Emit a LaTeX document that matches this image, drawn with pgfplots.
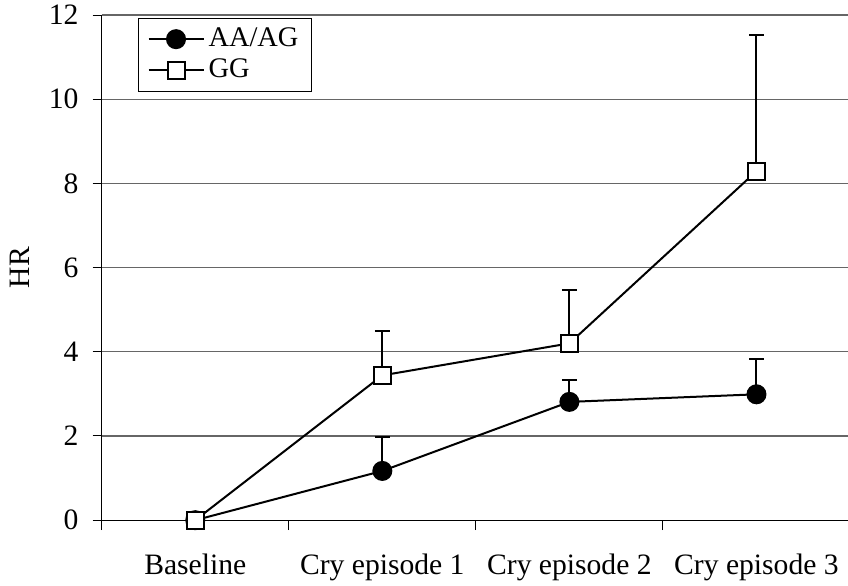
\documentclass[border=0pt]{standalone}
\usepackage{pgfplots}
\pgfplotsset{compat=1.18}
\usepackage{fontspec}
\setmainfont{Liberation Serif}
\begin{document}
\fontsize{14.8}{17}\selectfont
\begin{tikzpicture}
\begin{axis}[
  scale only axis,
  width=374pt, height=252.5pt,
  xmin=-0.5, xmax=3.5,
  ymin=0, ymax=12,
  ytick={0,2,4,6,8,10,12},
  xtick={0,1,2,3},
  xticklabels={Baseline, Cry episode 1, Cry episode 2, Cry episode 3},
  minor xtick={-0.5,0.5,1.5,2.5},
  axis x line*=bottom,
  axis y line*=left,
  axis line style={black, line width=0.6pt, -},
  tick align=outside,
  major tick length=4.5pt,
  minor tick length=5pt,
  xtick style={draw=none},
  minor x tick style={draw=black, line width=0.5pt},
  ytick style={black, line width=0.5pt},
  ymajorgrids,
  grid style={black!60, line width=0.6pt},
  /pgf/number format/assume math mode=true,
  ticklabel style={font=\fontsize{14.8}{17}\selectfont},
  xticklabel style={yshift=-7pt},
  yticklabel style={xshift=-2pt},
  ylabel={HR},
  ylabel style={at={(axis description cs:-0.109,0.5)}, anchor=center, font=\fontsize{14.8}{17}\selectfont},
  legend style={at={(axis description cs:0.0485,0.994)}, anchor=north west,
    draw=black, line width=0.5pt, font=\fontsize{14.2}{17}\selectfont,
    inner xsep=4.5pt, inner ysep=2.5pt, row sep=0pt,
    minimum width=0pt, text width=45pt},
  legend cell align=left,
  legend image code/.code={\draw[mark repeat=2,mark phase=2] plot coordinates {(0pt,0pt) (13.75pt,0pt) (27.5pt,0pt)};},
]
\addplot[black, line width=1pt, mark=*, mark size=4.5pt, mark options={fill=black, solid},
  error bars/.cd, y dir=plus, y explicit, error bar style={black, line width=1pt}, error mark options={rotate=90, mark size=3.7pt, line width=1pt}]
  coordinates {
  (0,0) +- (0,0)
  (1,1.17) +- (0,0.80)
  (2,2.81) +- (0,0.52)
  (3,2.99) +- (0,0.83)
};
\addlegendentry{AA/AG}
\addplot[black, line width=1pt, mark=square*, mark size=4.25pt, mark options={fill=white, solid},
  error bars/.cd, y dir=plus, y explicit, error bar style={black, line width=1pt}, error mark options={rotate=90, mark size=3.7pt, line width=1pt}]
  coordinates {
  (0,0) +- (0,0)
  (1,3.44) +- (0,1.05)
  (2,4.20) +- (0,1.26)
  (3,8.29) +- (0,3.23)
};
\addlegendentry{GG}
\end{axis}
\pgfresetboundingbox
\path[use as bounding box] ([shift={(-50.85pt,-32.5pt)}]current axis.south west) rectangle ([shift={(-1pt,7.5pt)}]current axis.north east);
\end{tikzpicture}
\end{document}
